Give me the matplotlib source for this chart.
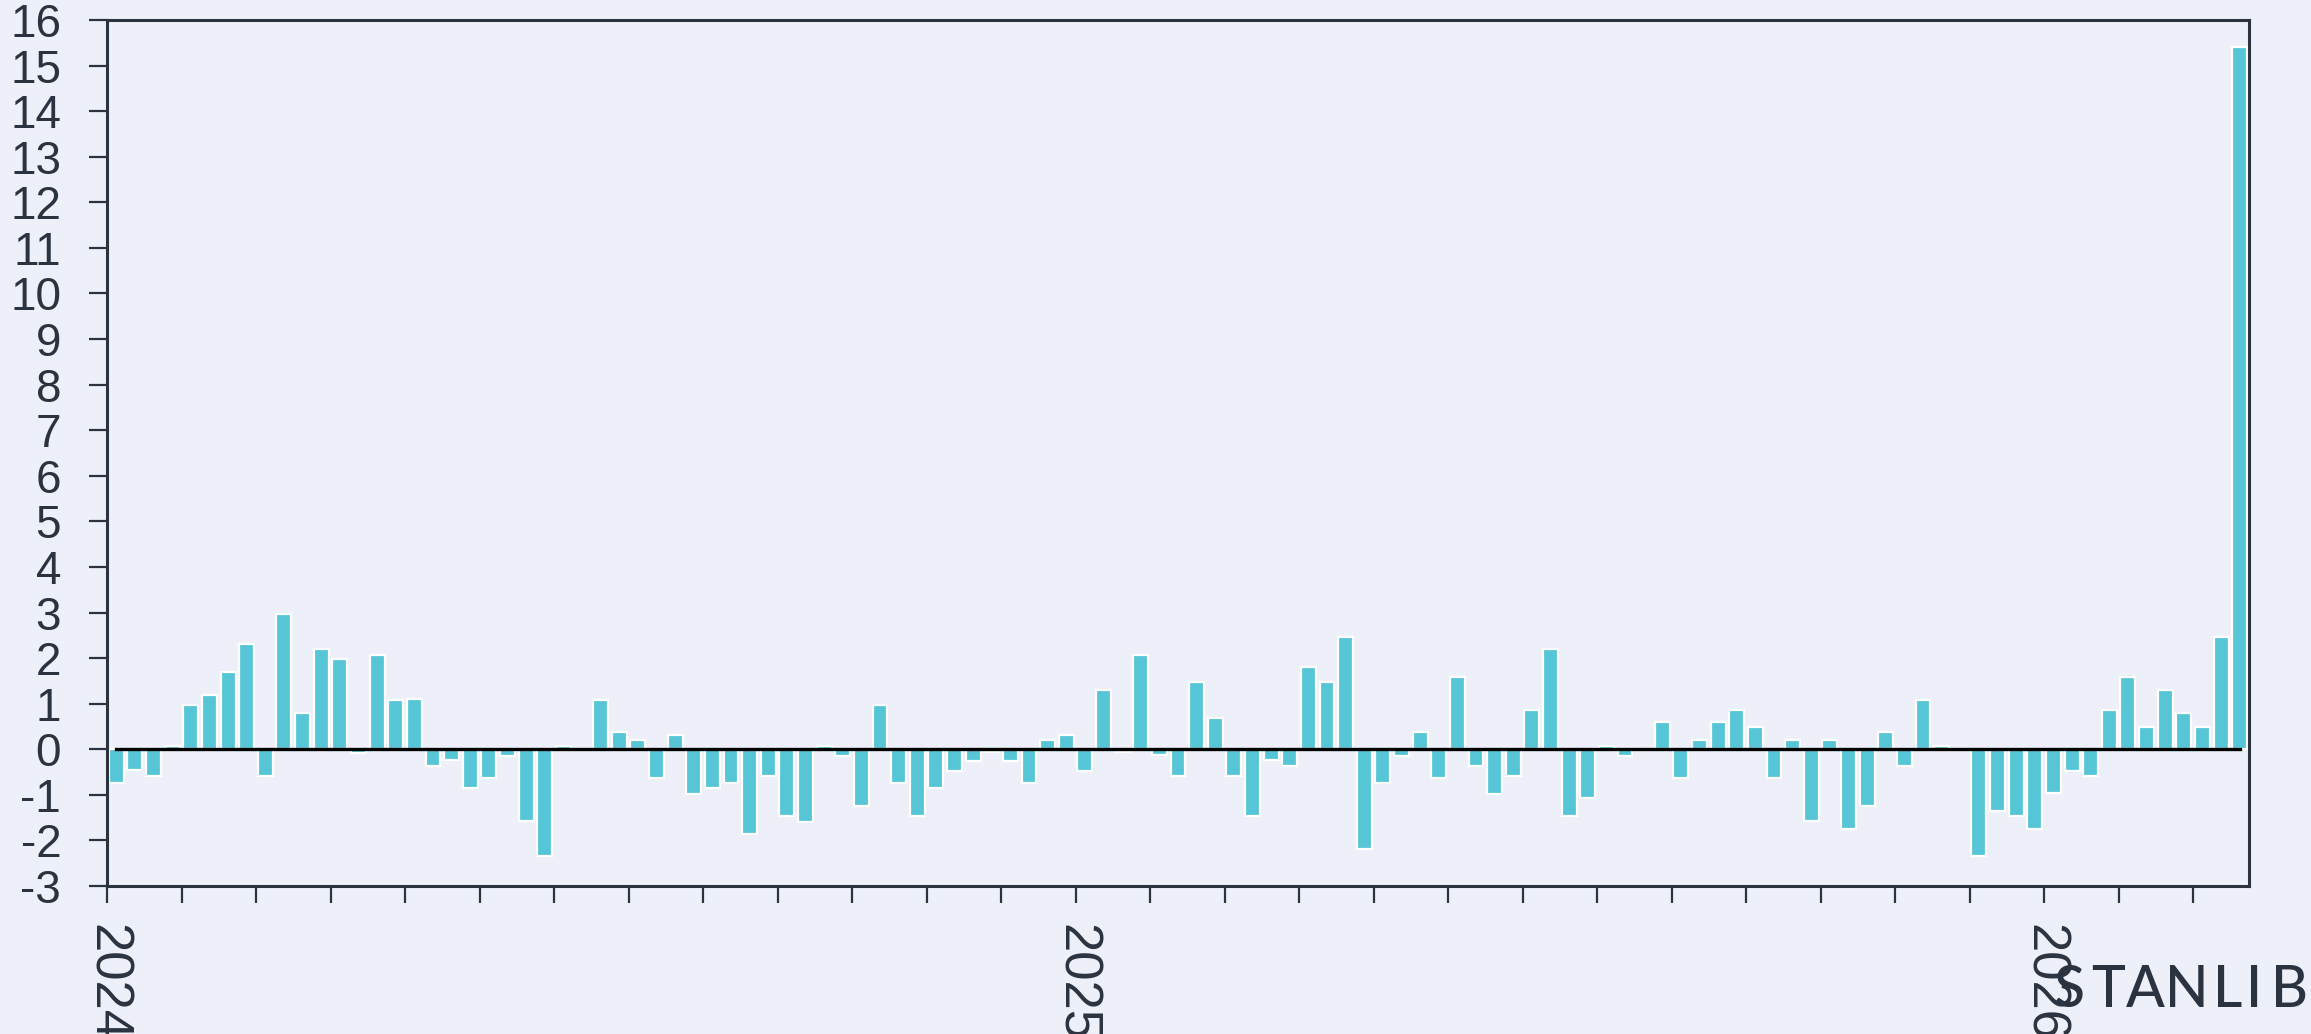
import matplotlib
matplotlib.use("Agg")
import matplotlib.pyplot as plt
import numpy as np


# =========================
# DATOS (semanal, ene 2024 - mar 2026)
# =========================
valores_2024 = [
    -0.75, -0.46, -0.59, 0.07, 0.97, 1.19, 1.69, 2.30, -0.59, 2.96,
    0.80, 2.19, 1.98, -0.09, 2.07, 1.08, 1.10, -0.36, -0.24, -0.86,
    -0.64, -0.14, -1.58, -2.34, 0.07, 0.00, 1.08, 0.37, 0.20, -0.64,
    0.31, -0.98, -0.86, -0.75, -1.87, -0.59, -1.47, -1.59, 0.07, -0.14,
    -1.25, 0.97, -0.75, -1.47, -0.86, -0.47, -0.25, -0.07, -0.25, -0.75,
    0.20, 0.31,
]
valores_2025 = [
    -0.47, 1.30, -0.07, 2.07, -0.13, -0.59, 1.47, 0.69, -0.59, -1.47,
    -0.24, -0.36, 1.81, 1.47, 2.47, -2.19, -0.75, -0.14, 0.37, -0.64,
    1.59, -0.36, -0.98, -0.59, 0.86, 2.19, -1.47, -1.08, 0.07, -0.14,
    0.00, 0.59, -0.64, 0.20, 0.59, 0.86, 0.48, -0.64, 0.20, -1.58,
    0.20, -1.74, -1.25, 0.37, -0.36, 1.08, 0.07, 0.00, -2.34, -1.35,
    -1.47, -1.74,
]
valores_2026 = [
    -0.97, -0.47, -0.59, 0.86, 1.59, 0.48, 1.30, 0.80, 0.48, 2.47, 15.4,
]

anios = ["2024", "2025", "2026"]
semanas_por_anio = 52

y_ticks = list(range(-3, 17))

COLOR_BARRA = "#56C6D6"
COLOR_FONDO = "#EDF0F9"
COLOR_TEXTO = "#2B3240"


# =========================
# GRAFICA
# =========================
valores = valores_2024 + valores_2025 + valores_2026
n = len(valores)
x = np.arange(n) + 0.5

fig = plt.figure(figsize=(23.11, 10.34), dpi=100)
fig.patch.set_facecolor(COLOR_FONDO)
ax = fig.add_axes([107 / 2311, 1 - 886 / 1034, (2249 - 107) / 2311, (886 - 20) / 1034])
ax.set_facecolor(COLOR_FONDO)

ax.bar(x, valores, width=0.8, color=COLOR_BARRA, edgecolor="white", linewidth=1.6, zorder=2)
ax.plot([x[0], x[-1]], [0, 0], color="black", linewidth=2.4, zorder=3)

ax.set_xlim(0, n)
ax.set_ylim(-3, 16)
ax.set_yticks(y_ticks)
ax.set_yticklabels([str(v) for v in y_ticks])

ticks_x = np.arange(0, n, 4)
etiquetas_x = [""] * len(ticks_x)
for i, anio in enumerate(anios):
    pos = i * semanas_por_anio
    etiquetas_x[list(ticks_x).index(pos)] = anio
ax.set_xticks(ticks_x)
ax.set_xticklabels(etiquetas_x, rotation=-90, ha="center", va="top")

for s in ax.spines.values():
    s.set_color(COLOR_TEXTO)
    s.set_linewidth(2.2)

ax.tick_params(axis="y", direction="out", length=13, width=1.6, pad=20,
               colors=COLOR_TEXTO, labelsize=33)
ax.tick_params(axis="x", direction="out", length=12.5, width=1.6, pad=15,
               colors=COLOR_TEXTO, labelsize=38)
for lbl in ax.get_xticklabels() + ax.get_yticklabels():
    lbl.set_fontfamily("Liberation Sans")

# logo
letras = "STANLIB"
centros = [2069, 2108, 2145, 2187, 2228, 2254, 2290]
for letra, cx in zip(letras, centros):
    fig.text(cx / 2311, 1 - 1007 / 1034, letra, ha="center", va="baseline",
             fontsize=41, color=COLOR_TEXTO, family="Lato", weight="medium")

fig.savefig("out.png", dpi=100, facecolor=COLOR_FONDO)
plt.close(fig)
